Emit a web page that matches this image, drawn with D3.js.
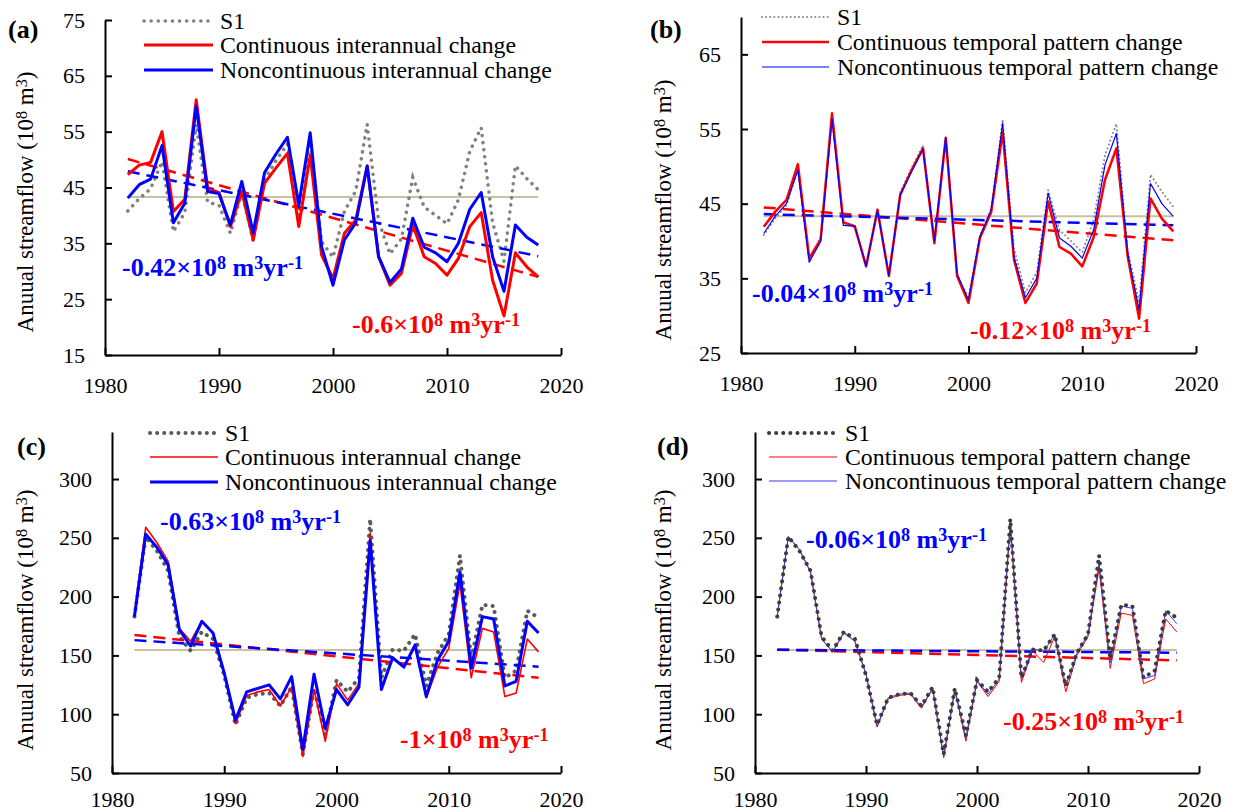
<!DOCTYPE html>
<html>
<head>
<meta charset="utf-8">
<script src="https://cdn.jsdelivr.net/npm/d3@7"></script>
<style>
  body { margin: 0; background: #ffffff; }
  svg { font-family: "Liberation Serif", "Times New Roman", serif; }
</style>
</head>
<body>
<div id="chart"></div>
<script>
// Years of record
const years = [1982, 1983, 1984, 1985, 1986, 1987, 1988, 1989, 1990, 1991,
  1992, 1993, 1994, 1995, 1996, 1997, 1998, 1999, 2000, 2001,
  2002, 2003, 2004, 2005, 2006, 2007, 2008, 2009, 2010, 2011,
  2012, 2013, 2014, 2015, 2016, 2017, 2018];

// Top row (a, b): S1 baseline
const s1Top = [40.8, 43.0, 44.8, 49.6, 37.1, 40.5, 56.3, 42.4, 41.8, 36.8,
  44.1, 35.4, 46.5, 49.8, 52.8, 40.0, 53.8, 35.3, 32.5, 40.7,
  44.4, 56.3, 39.0, 33.1, 35.8, 46.8, 41.5, 40.0, 38.5, 42.8,
  51.5, 55.7, 38.7, 31.8, 48.9, 46.6, 44.6];

// (a) interannual change
const contInterA = [47.3, 49.0, 49.5, 55.0, 40.7, 42.9, 60.7, 44.9, 44.1, 38.0,
  44.3, 35.6, 45.8, 48.5, 51.1, 38.0, 50.8, 32.9, 28.7, 36.8,
  39.2, 48.9, 32.6, 27.5, 29.6, 38.3, 32.6, 31.4, 29.3, 32.3,
  38.0, 40.5, 28.4, 22.0, 33.3, 30.8, 29.0];
const noncontInterA = [43.1, 45.5, 46.5, 52.5, 38.7, 42.2, 59.6, 44.3, 43.9, 38.3,
  46.1, 36.9, 47.7, 51.0, 54.0, 41.9, 54.8, 34.4, 27.5, 35.6,
  38.7, 48.8, 32.6, 28.0, 30.4, 39.5, 34.3, 33.3, 31.7, 35.0,
  41.1, 44.1, 32.6, 26.4, 38.3, 36.1, 34.7];

// (b) temporal pattern change
const contPatternB = [41.9, 43.9, 45.5, 50.3, 37.7, 40.2, 57.1, 42.5, 42.0, 36.6,
  44.2, 35.3, 46.2, 49.5, 52.4, 39.7, 53.8, 35.3, 31.7, 40.4,
  43.9, 54.6, 37.5, 31.7, 34.3, 45.3, 39.2, 38.3, 36.6, 40.5,
  48.2, 52.4, 37.9, 29.6, 45.7, 43.0, 41.3];
const noncontPatternB = [41.0, 43.3, 45.0, 49.5, 37.2, 39.9, 56.4, 42.1, 42.0, 36.6,
  44.1, 35.4, 46.2, 49.3, 52.3, 40.0, 53.9, 35.6, 32.1, 40.6,
  44.2, 55.8, 37.9, 32.4, 35.0, 46.4, 40.4, 39.3, 37.7, 41.5,
  50.2, 54.4, 38.3, 30.8, 47.7, 45.0, 43.3];

// Bottom row (c, d): S1 baseline
const s1Bottom = [183, 251, 239, 222, 166, 154, 170, 164, 133, 91,
  114, 117, 118, 107, 123, 66, 122, 82, 129, 119,
  131, 266, 131, 155, 154, 168, 124, 152, 168, 235,
  147, 193, 192, 131, 137, 188, 182];

// (c) interannual change
const contInterC = [185, 259, 246, 230, 173, 162, 179, 169, 135, 92,
  116, 119, 121, 107, 123, 64, 121, 77, 126, 112,
  126, 254, 122, 148, 140, 157, 114, 140, 156, 211,
  131, 173, 170, 115, 118, 164, 153];
const noncontInterC = [183, 253, 242, 227, 172, 158, 179, 169, 135, 95,
  119, 122, 125, 113, 132, 70, 134, 88, 121, 108,
  123, 248, 121, 148, 140, 159, 115, 146, 162, 221,
  139, 183, 181, 124, 128, 179, 169];

// (d) temporal pattern change
const contPatternD = [183, 251, 240, 221, 164, 153, 169, 162, 134, 89,
  113, 116, 117, 105, 122, 63, 121, 77, 128, 115,
  128, 262, 127, 154, 144, 166, 119, 150, 166, 224,
  139, 186, 184, 126, 130, 181, 170];
const noncontPatternD = [183, 251, 240, 221, 164, 153, 170, 162, 134, 90,
  114, 117, 118, 106, 122, 64, 121, 80, 129, 117,
  130, 264, 130, 156, 153, 168, 124, 152, 168, 229,
  144, 192, 190, 130, 133, 188, 177];

// Linear trends, values at first and last year
const trendContA = [50.1, 29.0];
const trendNoncontA = [47.9, 32.7];
const trendContB = [44.5, 40.1];
const trendNoncontB = [43.6, 42.1];
const trendContC = [167.3, 131.0];
const trendNoncontC = [163.0, 140.4];
const trendContD = [154.8, 145.8];
const trendNoncontD = [154.8, 152.3];

// Multi-year means
const meanTop = 43.3;
const meanBottom = 154.5;

// Slope labels
const slopeContA = '-0.6', slopeNoncontA = '-0.42';
const slopeContB = '-0.12', slopeNoncontB = '-0.04';
const slopeContC = '-1', slopeNoncontC = '-0.63';
const slopeContD = '-0.25', slopeNoncontD = '-0.06';

// Tick values
const xTicks = [1980, 1990, 2000, 2010, 2020];
const yTicksA = [15, 25, 35, 45, 55, 65, 75];
const yTicksB = [25, 35, 45, 55, 65];
const yTicksCD = [50, 100, 150, 200, 250, 300];

const RED = '#ff0000';
const BLUE = '#0000ff';
const MEAN = '#c8c0a2';
const FONT = '"Liberation Serif", "Times New Roman", serif';

const svg = d3.select('#chart')
  .append('svg')
  .attr('width', 1235)
  .attr('height', 812)
  .attr('font-family', FONT);

// Append text pieces, raising the ones marked sup
function richText(sel, parts) {
  parts.forEach(p => {
    const t = sel.append('tspan').text(p.t);
    if (p.sup) {
      t.attr('baseline-shift', '40%').attr('font-size', '70%');
    }
  });
}

function drawPanel(p) {
  const x = d3.scaleLinear().domain([1980, 2020]).range([p.left, p.right]);
  const y = d3.scaleLinear().domain(p.yDomain).range([p.bottom, p.top]);
  const g = svg.append('g');

  const line = d3.line()
    .x((d, i) => x(years[i]))
    .y(d => y(d));

  // Mean line
  g.append('line')
    .attr('x1', x(years[0]))
    .attr('x2', x(years[years.length - 1]))
    .attr('y1', y(p.mean))
    .attr('y2', y(p.mean))
    .attr('stroke', MEAN)
    .attr('stroke-width', 2);

  const drawS1 = () => {
    g.append('path')
      .datum(p.s1)
      .attr('fill', 'none')
      .attr('stroke', p.s1Style.color)
      .attr('stroke-width', p.s1Style.width)
      .attr('stroke-linecap', 'round')
      .attr('stroke-dasharray', p.s1Style.dash)
      .attr('d', line);
  };

  if (!p.s1OnTop) drawS1();

  // Trend lines
  [[p.trendCont, RED], [p.trendNoncont, BLUE]].forEach(([tr, color]) => {
    g.append('line')
      .attr('x1', x(years[0]))
      .attr('x2', x(years[years.length - 1]))
      .attr('y1', y(tr[0]))
      .attr('y2', y(tr[1]))
      .attr('stroke', color)
      .attr('stroke-width', 2.5)
      .attr('stroke-dasharray', '12,7');
  });

  // Scenario series
  g.append('path')
    .datum(p.cont)
    .attr('fill', 'none')
    .attr('stroke', RED)
    .attr('stroke-width', p.contWidth)
    .attr('stroke-linejoin', 'round')
    .attr('d', line);

  g.append('path')
    .datum(p.noncont)
    .attr('fill', 'none')
    .attr('stroke', p.noncontColor || BLUE)
    .attr('stroke-width', p.noncontWidth)
    .attr('stroke-linejoin', 'round')
    .attr('d', line);

  if (p.s1OnTop) drawS1();

  // Axes
  const xAxis = g.append('g')
    .attr('transform', `translate(0, ${p.bottom})`)
    .call(d3.axisBottom(x).tickValues(xTicks).tickFormat(d3.format('d'))
      .tickSizeInner(-7).tickSizeOuter(0).tickPadding(p.xPad));
  const yAxis = g.append('g')
    .attr('transform', `translate(${p.left}, 0)`)
    .call(d3.axisLeft(y).tickValues(p.yTicks)
      .tickSizeInner(-7).tickSizeOuter(0).tickPadding(20));

  [xAxis, yAxis].forEach(a => {
    a.attr('font-family', FONT);
    a.select('.domain').attr('stroke', '#000').attr('stroke-width', 2);
    a.selectAll('.tick line').attr('stroke', '#000').attr('stroke-width', 2);
    a.selectAll('.tick text')
      .attr('fill', '#000')
      .attr('font-size', 22);
  });

  // Y axis title
  const yt = g.append('text')
    .attr('transform', `translate(${p.yTitleX}, ${p.yTitleY}) rotate(-90)`)
    .attr('text-anchor', 'middle')
    .attr('font-size', 23)
    .attr('fill', '#000');
  richText(yt, [
    { t: 'Anuual streamflow (10' }, { t: '8', sup: true },
    { t: ' m' }, { t: '3', sup: true }, { t: ')' }
  ]);

  // Panel label
  g.append('text')
    .attr('x', p.labelX)
    .attr('y', p.labelY)
    .attr('font-size', 26)
    .attr('font-weight', 'bold')
    .text(p.label);

  // Legend
  const lg = p.legend;
  const items = [
    { name: 'S1', color: p.s1Style.color, width: p.s1Style.width, dash: p.s1Style.dash, cap: 'round' },
    { name: p.contName, color: RED, width: p.contWidth },
    { name: p.noncontName, color: p.noncontColor || BLUE, width: p.noncontWidth }
  ];
  items.forEach((it, i) => {
    const ly = lg.rows[i];
    g.append('line')
      .attr('x1', lg.x1).attr('x2', lg.x2)
      .attr('y1', ly).attr('y2', ly)
      .attr('stroke', it.color)
      .attr('stroke-width', it.width)
      .attr('stroke-linecap', it.cap || 'butt')
      .attr('stroke-dasharray', it.dash || null);
    g.append('text')
      .attr('x', lg.tx)
      .attr('y', ly)
      .attr('dy', '0.33em')
      .attr('font-size', 23.8)
      .attr('fill', '#000')
      .text(it.name);
  });

  // Slope annotations
  [[p.slopeNoncont, BLUE, p.noteNoncont], [p.slopeCont, RED, p.noteCont]].forEach(([s, color, pos]) => {
    const t = g.append('text')
      .attr('x', pos[0])
      .attr('y', pos[1])
      .attr('font-size', 26)
      .attr('font-weight', 'bold')
      .attr('fill', color);
    richText(t, [
      { t: s + '\u00d710' }, { t: '8', sup: true },
      { t: ' m' }, { t: '3', sup: true }, { t: 'yr' }, { t: '-1', sup: true }
    ]);
  });
}

const dottedLight = { color: '#808080', width: 3.5, dash: '0.1,7' };
const dottedThin = { color: '#8a8a8a', width: 2, dash: '0.1,4' };
const dottedDark = { color: '#5a5a5a', width: 4, dash: '0.1,7' };
const dottedDarker = { color: '#3c3c3c', width: 4, dash: '0.1,7' };

drawPanel({
  label: '(a)', labelX: 8, labelY: 38,
  left: 105, right: 561, top: 20, bottom: 355, yDomain: [15, 75], yTicks: yTicksA, xPad: 22,
  yTitleX: 33, yTitleY: 202,
  s1: s1Top, s1Style: dottedLight, cont: contInterA, noncont: noncontInterA,
  contWidth: 3, noncontWidth: 3,
  trendCont: trendContA, trendNoncont: trendNoncontA, mean: meanTop,
  contName: 'Continuous interannual change', noncontName: 'Noncontinuous interannual change',
  legend: { x1: 144, x2: 213, tx: 220, rows: [21, 45, 70] },
  slopeCont: slopeContA, slopeNoncont: slopeNoncontA,
  noteNoncont: [122, 276], noteCont: [352, 333]
});

drawPanel({
  label: '(b)', labelX: 650, labelY: 38,
  left: 741, right: 1196, top: 17, bottom: 353, yDomain: [25, 70], yTicks: yTicksB, xPad: 22,
  yTitleX: 671, yTitleY: 210,
  s1: s1Top, s1Style: dottedThin, cont: contPatternB, noncont: noncontPatternB,
  contWidth: 2.5, noncontWidth: 1.2,
  trendCont: trendContB, trendNoncont: trendNoncontB, mean: meanTop,
  contName: 'Continuous temporal pattern change', noncontName: 'Noncontinuous temporal pattern change',
  legend: { x1: 762, x2: 829, tx: 837, rows: [17, 42, 67] },
  slopeCont: slopeContB, slopeNoncont: slopeNoncontB,
  noteNoncont: [752, 302], noteCont: [970, 339]
});

drawPanel({
  label: '(c)', labelX: 17, labelY: 455,
  left: 112, right: 561, top: 432, bottom: 773, yDomain: [50, 340], yTicks: yTicksCD, xPad: 18,
  yTitleX: 33, yTitleY: 620,
  s1: s1Bottom, s1Style: dottedDark, cont: contInterC, noncont: noncontInterC,
  contWidth: 1.6, noncontWidth: 3,
  trendCont: trendContC, trendNoncont: trendNoncontC, mean: meanBottom,
  contName: 'Continuous interannual change', noncontName: 'Noncontinuous interannual change',
  legend: { x1: 150, x2: 218, tx: 225, rows: [433, 457, 482] },
  slopeCont: slopeContC, slopeNoncont: slopeNoncontC,
  noteNoncont: [160, 530], noteCont: [400, 748]
});

drawPanel({
  label: '(d)', labelX: 657, labelY: 455,
  left: 755, right: 1199, top: 432, bottom: 773, yDomain: [50, 340], yTicks: yTicksCD, xPad: 18,
  yTitleX: 671, yTitleY: 620,
  s1: s1Bottom, s1Style: dottedDarker, s1OnTop: true, cont: contPatternD, noncont: noncontPatternD,
  contWidth: 1, noncontWidth: 1, noncontColor: '#3a3aff',
  trendCont: trendContD, trendNoncont: trendNoncontD, mean: meanBottom,
  contName: 'Continuous temporal pattern change', noncontName: 'Noncontinuous temporal pattern change',
  legend: { x1: 769, x2: 837, tx: 845, rows: [433, 457, 481] },
  slopeCont: slopeContD, slopeNoncont: slopeNoncontD,
  noteNoncont: [806, 548], noteCont: [1003, 730]
});
</script>
</body>
</html>
